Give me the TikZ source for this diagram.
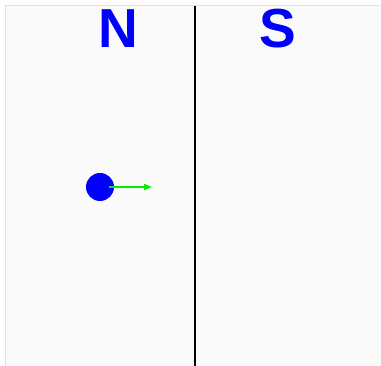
\documentclass[tikz,border=0pt]{standalone}
\usepackage{fontspec}
\setmainfont{Liberation Sans}
\usetikzlibrary{arrows.meta}
\definecolor{bgc}{HTML}{FAFAFA}
\definecolor{edgec}{HTML}{E2E2E2}
\definecolor{dotc}{HTML}{0000FF}
\definecolor{arrc}{HTML}{00EE00}
\tikzset{
  pole/.style={text=dotc, font=\bfseries\fontsize{55}{55}\selectfont, anchor=base, inner sep=0pt},
  charge/.style={circle, fill=dotc, minimum size=28pt, inner sep=0pt},
  force/.style={draw=arrc, line width=1.6pt, -{Triangle[length=8pt,width=6pt]}}
}
\begin{document}
\begin{tikzpicture}[x=1pt,y=-1pt]
\useasboundingbox (0,0) rectangle (381,366);
\fill[white] (0,0) rectangle (381,366);
\fill[bgc] (5.5,5.5) rectangle (381,366);
\draw[edgec, line width=1.5pt] (5.5,366) -- (5.5,5.5) -- (381,5.5);
\coordinate (top) at (195,6);
\coordinate (bot) at (195,366);
\draw[black, line width=2pt] (top) -- (bot);
\node[pole] (N) at (118,47.5) {N};
\node[pole] (S) at (278,47.5) {S};
\node[charge] (q) at (100,187) {};
\coordinate (tip) at (152,187);
\draw[force] (q.center) ++(9,0) coordinate (start) (start) -- (tip);
\end{tikzpicture}
\end{document}
